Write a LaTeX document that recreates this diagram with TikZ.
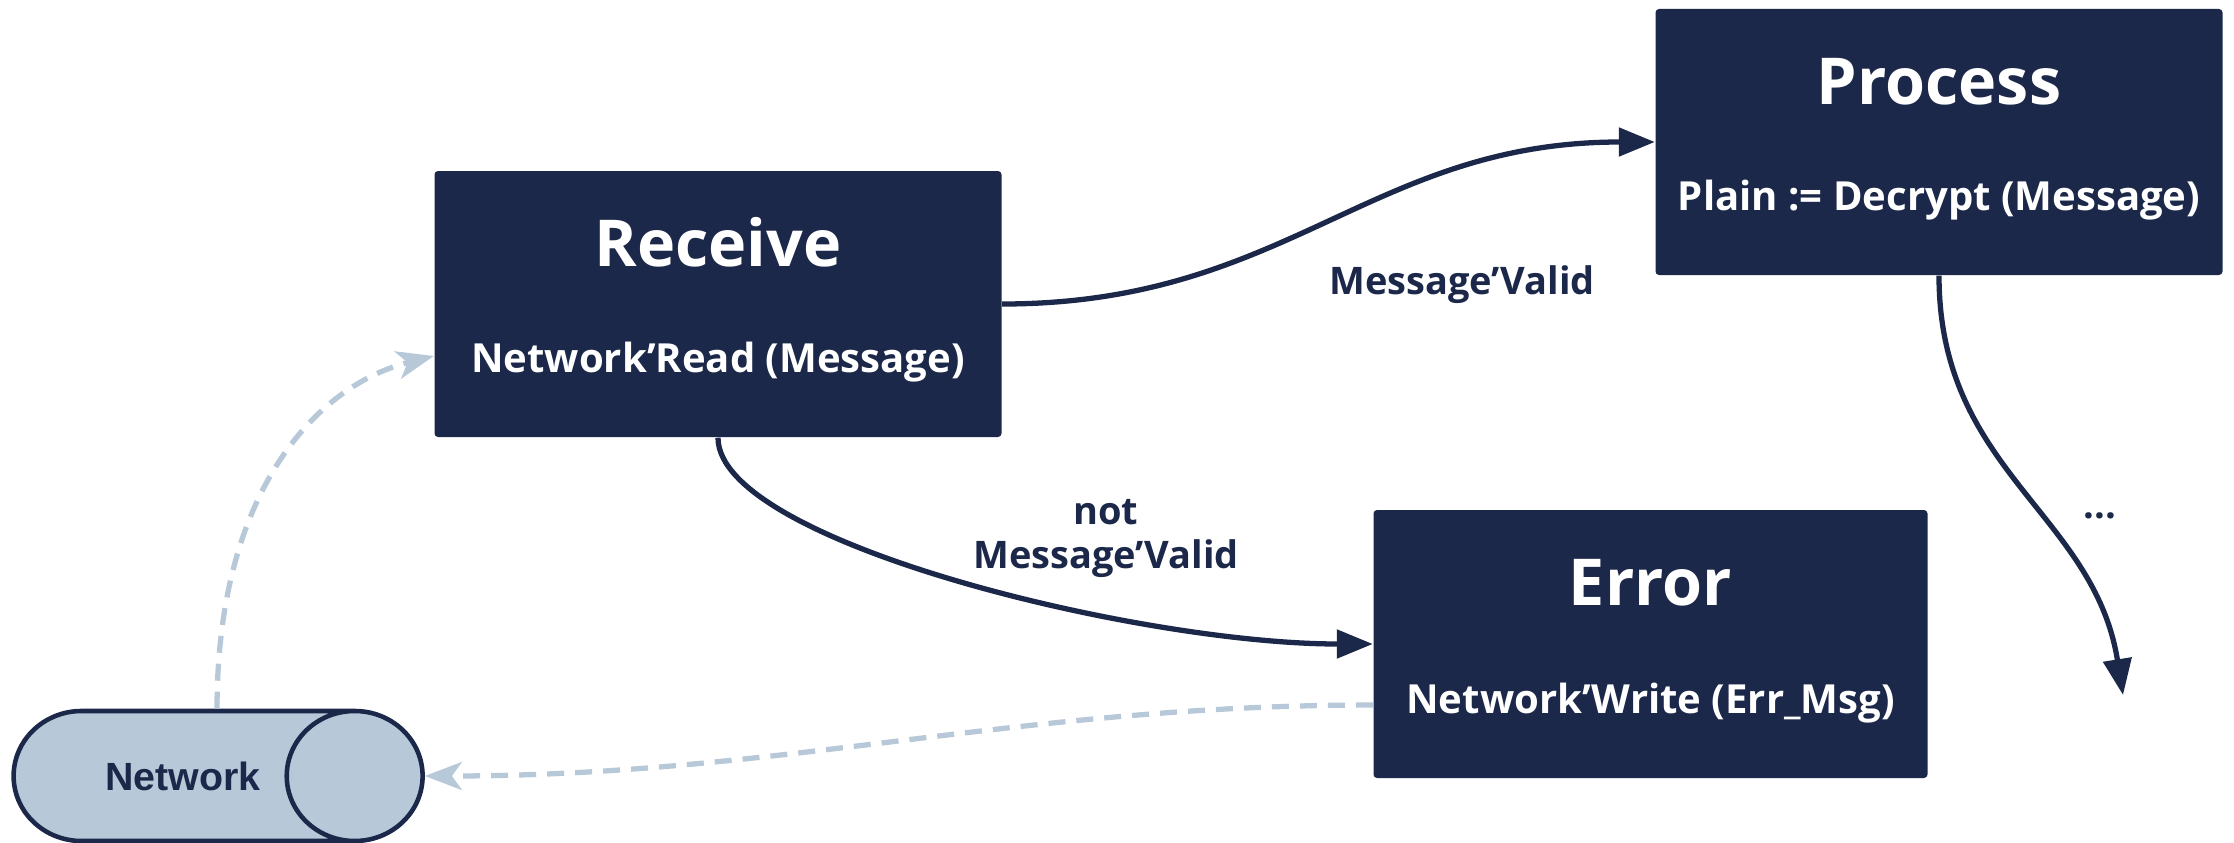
\documentclass[tikz,border=0pt]{standalone}
\usepackage{fontspec}
\setmainfont{Open Sans}
\newfontfamily\netfont{Liberation Sans}
\usetikzlibrary{arrows.meta, shapes.geometric}
\definecolor{navy}{HTML}{1C2849}
\definecolor{mist}{HTML}{B7C8D8}

\begin{document}
\begin{tikzpicture}[
    state/.style={fill=navy, rounded corners=1pt, inner sep=0pt, minimum width=5.67cm, minimum height=2.66cm},
    head/.style={text=white, font=\fontsize{18.4}{21}\selectfont\bfseries, anchor=base},
    sub/.style={text=white, font=\fontsize{11.4}{13}\selectfont\bfseries, anchor=base},
    lbl/.style={text=navy, font=\fontsize{10.8}{12.5}\selectfont\bfseries, align=center},
    netcyl/.style={cylinder, shape aspect=4.7, draw=navy, fill=mist, line width=1.3pt, minimum height=4.09cm, minimum width=1.30cm, inner sep=0pt, text=navy, font=\netfont\fontsize{11.2}{13}\selectfont\bfseries},
    flow/.style={navy, line width=1.5pt, -{Triangle[length=3.6mm, width=2.8mm]}},
    io/.style={mist, line width=1.5pt, dash pattern=on 1.7mm off 1.1mm, -{Stealth[length=3.7mm, width=2.8mm, inset=1mm]}}
]
    \useasboundingbox (0,0) rectangle (22.34,8.42);

    \node[state] (rcv) at (7.18,5.38) {};
    \node[head] (rcv-t) at ([yshift=-0.96cm]rcv.north) {Receive};
    \node[sub] (rcv-s) at ([yshift=-2.02cm]rcv.north) {Network’Read (Message)};

    \node[state] (prc) at (19.39,7.00) {};
    \node[head] (prc-t) at ([yshift=-0.96cm]prc.north) {Process};
    \node[sub] (prc-s) at ([yshift=-2.02cm]prc.north) {Plain := Decrypt (Message)};

    \node[state, minimum width=5.54cm, minimum height=2.68cm] (err) at (16.505,1.98) {};
    \node[head] (err-t) at ([yshift=-0.96cm]err.north) {Error};
    \node[sub] (err-s) at ([yshift=-2.04cm]err.north) {Network’Write (Err\_Msg)};

    \node[netcyl] (net) at (1.83,0.66) {Network};

    \draw[flow] (rcv.east) .. controls +(2.85,0) and +(-2.85,0) .. (prc.west);
    \node[lbl] (ok) at (14.62,5.57) {Message’Valid};

    \draw[flow] (rcv.south) .. controls +(0,-1.04) and +(-2.34,0) .. (err.west);
    \node[lbl] (bad) at (11.06,3.035) {not\\Message’Valid};

    \coordinate (next) at (21.23,1.47);
    \draw[flow] (prc.south) .. controls +(0,-1.95) and +(-0.29,1.82) .. (next);
    \node[lbl] (dots) at (21.0,3.26) {...};

    \draw[io] ([xshift=0.34cm]net.north) .. controls +(0,2.14) and +(-1.2,-0.3) .. ([yshift=-0.52cm]rcv.west);
    \draw[io] ([yshift=-0.61cm]err.west) .. controls +(-3.56,0) and +(3.56,0) .. (net.east);
\end{tikzpicture}
\end{document}
